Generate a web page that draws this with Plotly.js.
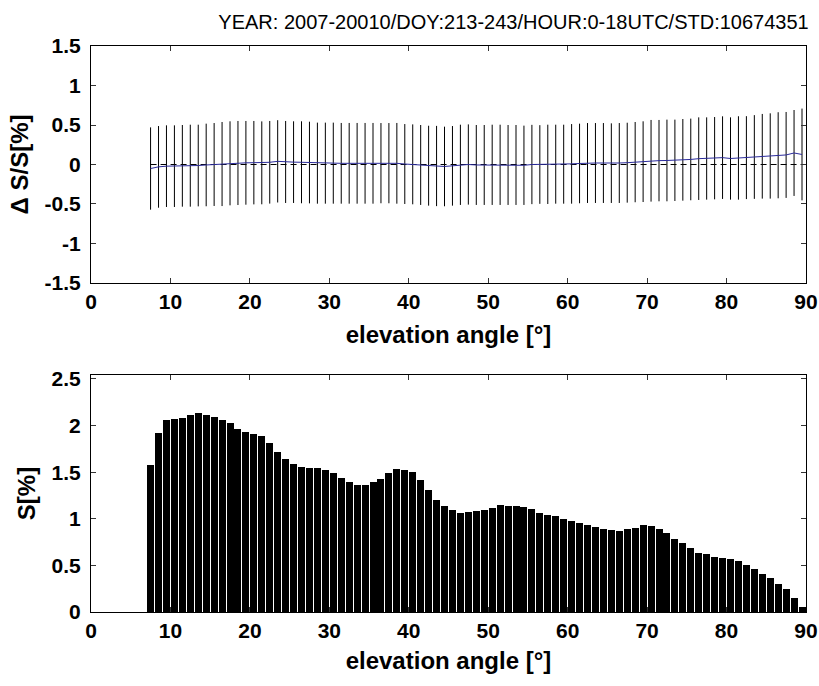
<!DOCTYPE html>
<html>
<head>
<meta charset="utf-8">
<script src="https://cdn.plot.ly/plotly-3.0.1.min.js"></script>
<style>html,body{margin:0;padding:0;background:#fff;}#chart{width:819px;height:686px;}</style>
</head>
<body>
<div id="chart"></div>
<script>
// elevation angle bin centres [deg]
const elevation = [7.5,8.5,9.5,10.5,11.5,12.5,13.5,14.5,15.5,16.5,17.5,18.5,19.5,20.5,21.5,22.5,23.5,24.5,25.5,26.5,27.5,28.5,29.5,30.5,31.5,32.5,33.5,34.5,35.5,36.5,37.5,38.5,39.5,40.5,41.5,42.5,43.5,44.5,45.5,46.5,47.5,48.5,49.5,50.5,51.5,52.5,53.5,54.5,55.5,56.5,57.5,58.5,59.5,60.5,61.5,62.5,63.5,64.5,65.5,66.5,67.5,68.5,69.5,70.5,71.5,72.5,73.5,74.5,75.5,76.5,77.5,78.5,79.5,80.5,81.5,82.5,83.5,84.5,85.5,86.5,87.5,88.5,89.5];

// mean Delta S/S [%]
const meanDS = [-0.051,-0.030,-0.021,-0.021,-0.017,-0.015,-0.013,-0.006,0.000,0.006,0.015,0.019,0.021,0.023,0.021,0.028,0.040,0.032,0.030,0.028,0.025,0.017,0.017,0.017,0.015,0.015,0.015,0.015,0.015,0.017,0.017,0.015,0.006,0.002,-0.006,-0.015,-0.019,-0.025,-0.017,-0.004,0.000,-0.006,-0.006,-0.004,-0.004,-0.006,-0.006,-0.010,0.000,0.000,0.002,0.004,0.004,0.008,0.013,0.019,0.019,0.019,0.017,0.019,0.023,0.030,0.036,0.047,0.049,0.051,0.053,0.059,0.064,0.074,0.076,0.080,0.087,0.076,0.083,0.087,0.095,0.104,0.108,0.117,0.121,0.146,0.127];

// standard deviation of Delta S/S [%]
const stdDS = [0.521,0.517,0.517,0.517,0.517,0.519,0.517,0.523,0.525,0.532,0.532,0.532,0.530,0.528,0.525,0.523,0.521,0.519,0.517,0.519,0.517,0.513,0.513,0.513,0.511,0.511,0.511,0.511,0.511,0.508,0.508,0.511,0.506,0.506,0.506,0.506,0.508,0.504,0.504,0.508,0.508,0.506,0.506,0.508,0.508,0.506,0.506,0.502,0.502,0.498,0.502,0.500,0.500,0.504,0.504,0.506,0.506,0.506,0.504,0.506,0.506,0.508,0.511,0.517,0.515,0.517,0.515,0.517,0.517,0.523,0.521,0.521,0.523,0.521,0.528,0.525,0.530,0.536,0.540,0.545,0.544,0.544,0.581];

// S [%]
const sValues = [1.577,1.925,2.057,2.075,2.082,2.115,2.133,2.115,2.090,2.065,2.025,1.968,1.935,1.907,1.889,1.817,1.717,1.642,1.591,1.552,1.541,1.548,1.527,1.491,1.441,1.391,1.358,1.366,1.391,1.430,1.491,1.534,1.527,1.502,1.416,1.308,1.201,1.136,1.093,1.061,1.068,1.079,1.093,1.118,1.143,1.136,1.136,1.129,1.100,1.061,1.043,1.029,1.000,0.975,0.957,0.928,0.910,0.892,0.878,0.867,0.885,0.903,0.928,0.921,0.885,0.846,0.778,0.738,0.688,0.638,0.620,0.595,0.581,0.570,0.545,0.505,0.462,0.412,0.366,0.305,0.244,0.154,0.057];

const xTicks = [0,10,20,30,40,50,60,70,80,90];
const xTickLabels = ['0','10','20','30','40','50','60','70','80','90'];
const yTicksTop = [-1.5,-1,-0.5,0,0.5,1,1.5];
const yTickLabelsTop = ['-1.5','-1','-0.5','0','0.5','1','1.5'];
const yTicksBottom = [0,0.5,1,1.5,2,2.5];
const yTickLabelsBottom = ['0','0.5','1','1.5','2','2.5'];
const zeroLine = [0, 0];

const chartTitle = 'YEAR: 2007-20010/DOY:213-243/HOUR:0-18UTC/STD:10674351';
const xTitle = 'elevation angle [°]';
const yTitleTop = '\u0394 S/S[%]';
const yTitleBottom = 'S[%]';

const FONT = 'Liberation Sans, Arial, sans-serif';
const tickFont = {family: FONT, size: 21, color: '#000', weight: 'bold'};
const titleFont = {family: FONT, size: 24, color: '#000', weight: 'bold'};

function axisBase(extra) {
  return Object.assign({
    showline: true, mirror: 'ticks', linecolor: '#000', linewidth: 1,
    ticks: 'inside', ticklen: 5, tickcolor: '#333', tickwidth: 1,
    showgrid: false, zeroline: false, tickfont: tickFont,
    fixedrange: true, automargin: false
  }, extra);
}

const traces = [
  {
    x: [elevation[0], elevation[elevation.length - 1]], y: zeroLine,
    type: 'scatter', mode: 'lines', xaxis: 'x', yaxis: 'y',
    line: {color: '#000', width: 1, dash: '6px,4px'}, hoverinfo: 'skip'
  },
  {
    x: elevation, y: meanDS, type: 'scatter', mode: 'lines', xaxis: 'x', yaxis: 'y',
    line: {color: '#2a2a9a', width: 1},
    error_y: {type: 'data', array: stdDS, visible: true, color: '#000', thickness: 1, width: 0}
  },
  {
    x: elevation, y: sValues, type: 'bar', xaxis: 'x2', yaxis: 'y2',
    width: 0.88, marker: {color: '#000', line: {width: 0}}
  }
];

const layout = {
  width: 819, height: 686,
  margin: {l: 0, r: 0, t: 0, b: 0},
  paper_bgcolor: '#fff', plot_bgcolor: '#fff',
  showlegend: false,
  bargap: 0,
  title: {text: chartTitle, font: {family: FONT, size: 20, color: '#000'},
          x: 0.627, xanchor: 'center', xref: 'paper', y: 0.968, yanchor: 'middle', yref: 'paper'},
  xaxis: axisBase({
    domain: [0.1111, 0.9841], range: [0, 90], anchor: 'y',
    tickvals: xTicks, ticktext: xTickLabels,
    title: {text: xTitle, font: titleFont, standoff: 14}
  }),
  yaxis: axisBase({
    domain: [0.5875, 0.9329], range: [-1.5, 1.5], anchor: 'x',
    tickvals: yTicksTop, ticktext: yTickLabelsTop, ticklabelstandoff: 5,
    title: {text: yTitleTop, font: titleFont, standoff: 9}
  }),
  xaxis2: axisBase({
    domain: [0.1111, 0.9841], range: [0, 90], anchor: 'y2',
    tickvals: xTicks, ticktext: xTickLabels,
    title: {text: xTitle, font: titleFont, standoff: 11}
  }),
  yaxis2: axisBase({
    domain: [0.1079, 0.4534], range: [0, 2.543], anchor: 'x2',
    tickvals: yTicksBottom, ticktext: yTickLabelsBottom, ticklabelstandoff: 5,
    title: {text: yTitleBottom, font: titleFont, standoff: 9}
  })
};

Plotly.newPlot('chart', traces, layout, {staticPlot: true, displayModeBar: false});
</script>
</body>
</html>
